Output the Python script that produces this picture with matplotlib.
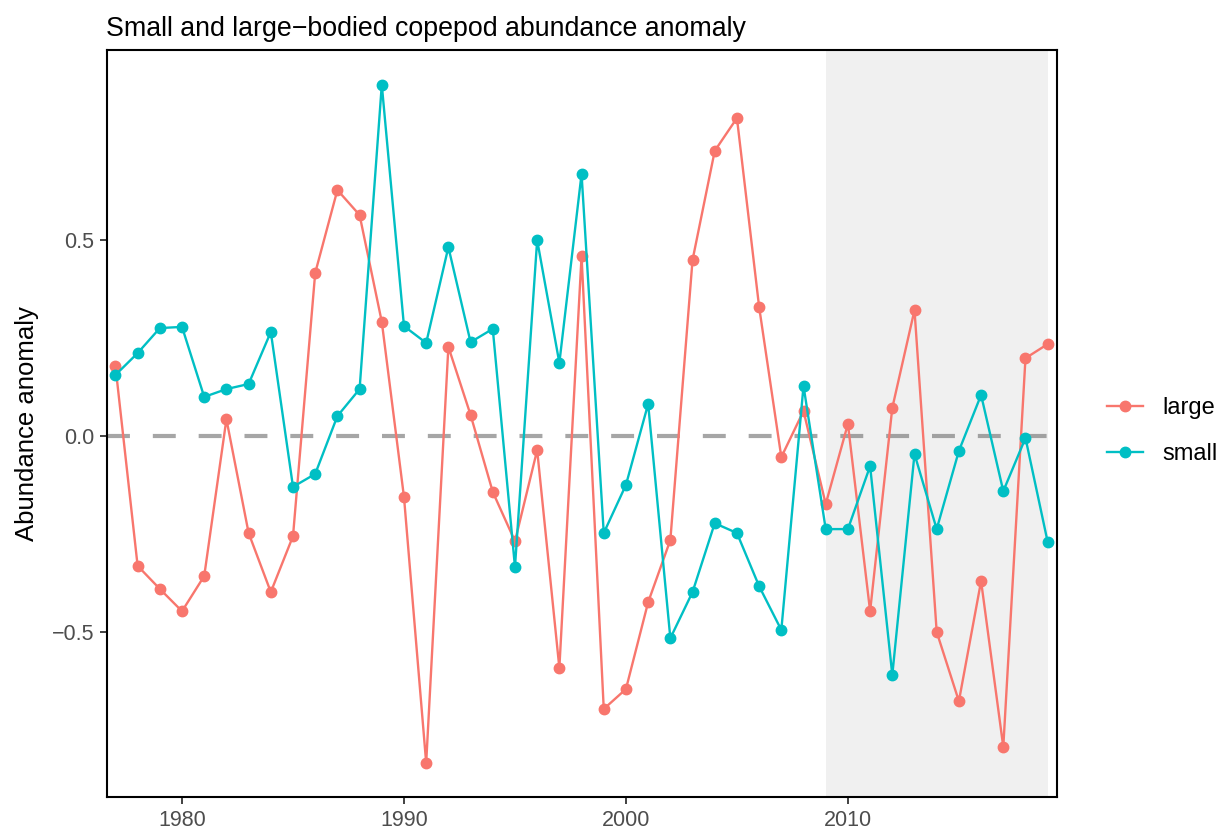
import matplotlib
matplotlib.use("Agg")
import matplotlib.pyplot as plt

plt.rcParams["font.family"] = ["Liberation Sans", "DejaVu Sans"]

years = list(range(1977, 2020))
large = [0.179, -0.332, -0.391, -0.448, -0.358, 0.043, -0.248, -0.399, -0.256, 0.417,
         0.629, 0.565, 0.292, -0.156, -0.836, 0.228, 0.054, -0.143, -0.269, -0.036,
         -0.593, 0.460, -0.698, -0.647, -0.425, -0.266, 0.450, 0.729, 0.813, 0.330,
         -0.054, 0.064, -0.174, 0.031, -0.448, 0.072, 0.322, -0.501, -0.678, -0.371,
         -0.795, 0.199, 0.235]
small = [0.156, 0.212, 0.276, 0.279, 0.100, 0.120, 0.133, 0.266, -0.130, -0.097,
         0.051, 0.120, 0.898, 0.281, 0.238, 0.483, 0.240, 0.274, -0.335, 0.501,
         0.187, 0.670, -0.248, -0.125, 0.082, -0.517, -0.399, -0.223, -0.248, -0.384,
         -0.496, 0.128, -0.238, -0.238, -0.077, -0.611, -0.046, -0.238, -0.038, 0.105,
         -0.141, -0.005, -0.271]
shade_start, shade_end = 2009, 2019

W, H = 1228, 836
fig = plt.figure(figsize=(W / 100, H / 100), dpi=100)
ax = fig.add_axes([107 / W, 39 / H, 950 / W, 747 / H])

ax.axvspan(shade_start, shade_end, color="#F0F0F0", zorder=0, lw=0)
ax.axhline(0, color="#808080", alpha=0.7, lw=3, linestyle=(0, (5.5, 5.5)), zorder=1)

ax.plot(years, large, color="#F8766D", lw=1.7, marker="o", ms=7.5, label="large", zorder=3)
ax.plot(years, small, color="#00BFC4", lw=1.7, marker="o", ms=7.5, label="small", zorder=3)

ax.set_xlim(1976.62, 2019.42)
ax.set_ylim(-0.923, 0.987)
ax.set_xticks([1980, 1990, 2000, 2010])
ax.set_yticks([-0.5, 0.0, 0.5])
ax.set_yticklabels(["\u22120.5", "0.0", "0.5"])
ax.tick_params(colors="#333333", labelsize=15.5, length=5, width=1.3, pad=4,
               labelcolor="#4D4D4D")
for s in ax.spines.values():
    s.set_linewidth(1.5)
    s.set_color("black")

ax.set_ylabel("Abundance anomaly", fontsize=18.5, labelpad=9)
ax.set_title("Small and large\u2212bodied copepod abundance anomaly", fontsize=19.3,
             loc="left", x=-0.001, pad=10)

leg = fig.legend(loc="center left", bbox_to_anchor=(1086 / W, 1 - 431 / H), frameon=False,
                 fontsize=17, handlelength=1.5, handletextpad=0.85, labelspacing=1.0)

fig.savefig("out.png", dpi=100)
